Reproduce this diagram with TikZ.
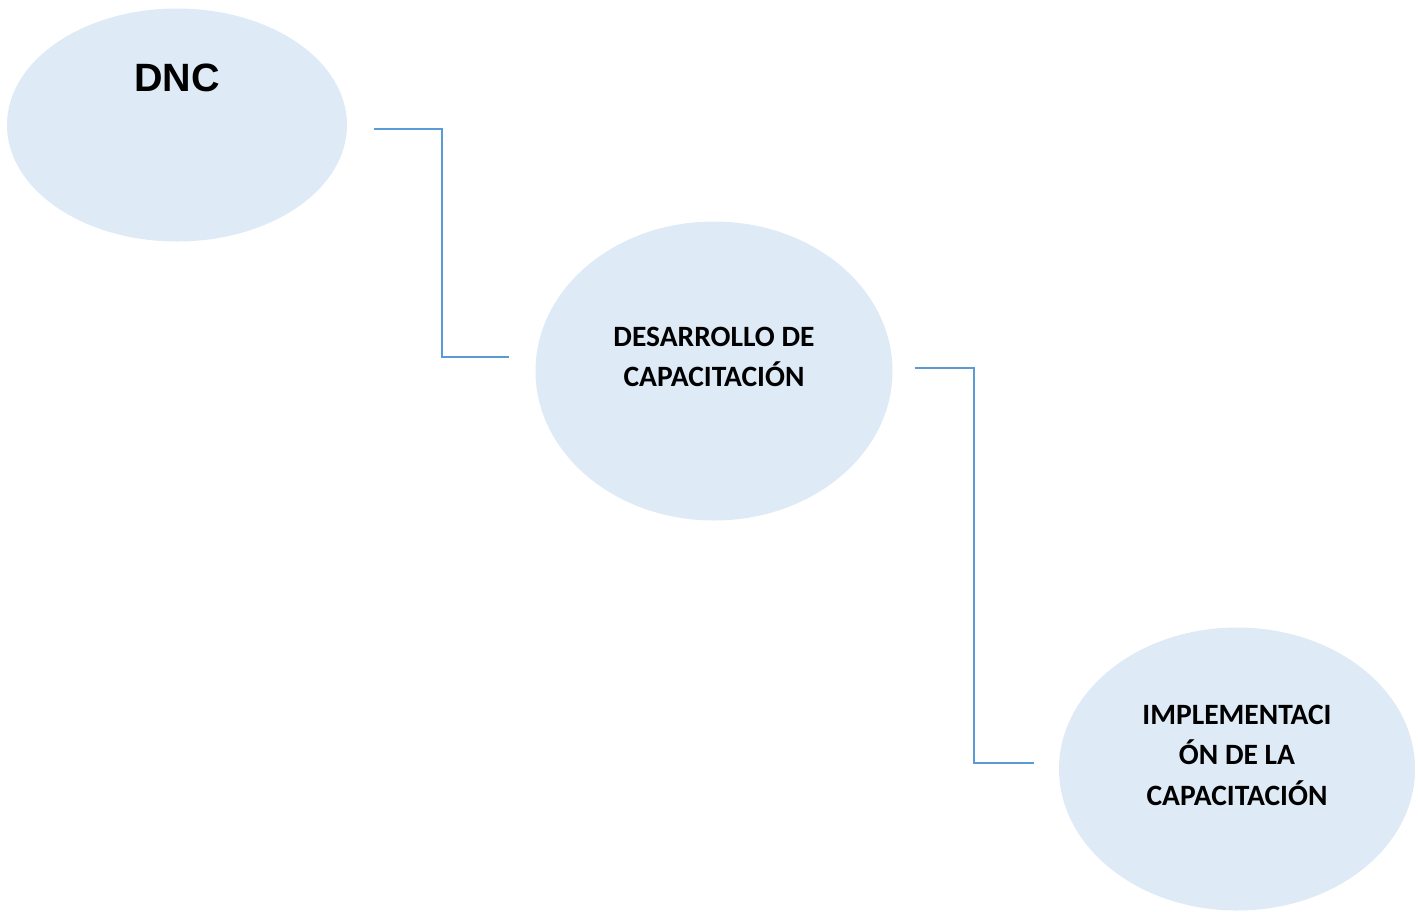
\documentclass[tikz,border=0pt]{standalone}
\usepackage{fontspec}
\setmainfont{Carlito}
\newfontfamily\arialfont{Liberation Sans}
\usetikzlibrary{shapes.geometric}
\definecolor{bubblefill}{RGB}{222,234,246}
\definecolor{linkblue}{RGB}{91,155,213}
\begin{document}
\begin{tikzpicture}
		[x=1pt,y=1pt,
		bubble/.style={ellipse,fill=bubblefill,inner sep=0pt},
		caption/.style={align=center,font=\bfseries\fontsize{29.5}{40.5}\selectfont},
		link/.style={draw=linkblue,line width=1.8pt},]
		\useasboundingbox (0,0) rectangle (1418,-911);
		% bubbles
		\node[bubble,minimum width=340,minimum height=233,name=dnc] at (177,-125) {};
		\node[bubble,minimum width=357,minimum height=299,name=des] at (714,-371) {};
		\node[bubble,minimum width=356,minimum height=283,name=imp] at (1237,-769) {};
		% texts
		\node[font=\arialfont\bfseries\fontsize{39.5}{40}\selectfont,name=dnctxt] at ([yshift=47]dnc.center) {DNC};
		\node[caption,name=destxt] at ([yshift=14]des.center) {DESARROLLO DE\\CAPACITACIÓN};
		\node[caption,name=imptxt] at ([yshift=14]imp.center) {IMPLEMENTACI\\ÓN DE LA\\CAPACITACIÓN};
		% connectors
		\coordinate (a1) at ([xshift=27,yshift=-4]dnc.east);
		\coordinate (a2) at ([xshift=-26,yshift=14]des.west);
		\coordinate (b1) at ([xshift=22,yshift=3]des.east);
		\coordinate (b2) at ([xshift=-25,yshift=6]imp.west);
		\draw[link] (a1) -- ++(68,0) |- (a2);
		\draw[link] (b1) -- ++(59,0) |- (b2);
	\end{tikzpicture}
\end{document}
